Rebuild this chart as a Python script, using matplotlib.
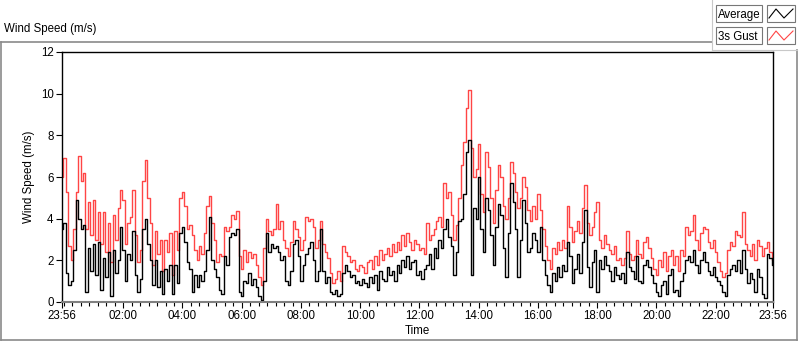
import matplotlib
matplotlib.use('Agg')
import matplotlib.pyplot as plt
import numpy as np
from matplotlib.lines import Line2D
from matplotlib.patches import Rectangle

# ---- data: 5-minute samples starting at 23:56 ----
SAMPLE_MIN = 5

gust = [
    # 23:56 - 02:00
    6.0, 6.9, 5.3, 2.7, 2.0, 3.5, 5.3, 7.0, 5.8, 6.2, 3.5, 4.8,
    3.2, 4.9, 3.0, 4.3, 2.8, 4.3, 2.4, 3.8, 1.9, 4.2, 3.0, 4.5,
    # 02:00 - 04:00
    5.4, 4.9, 2.8, 3.8, 4.1, 5.4, 3.2, 1.9, 2.5, 5.8, 6.8, 5.0,
    3.8, 1.8, 3.4, 2.3, 3.0, 1.5, 3.0, 2.4, 3.3, 1.3, 3.4, 2.5,
    # 04:00 - 06:00
    5.0, 5.3, 4.6, 3.5, 3.7, 3.2, 2.5, 2.0, 2.7, 2.3, 3.3, 4.6,
    5.1, 3.8, 3.0, 1.9, 2.3, 2.2, 3.6, 3.4, 3.6, 4.2, 4.0, 4.35,
    # 06:00 - 08:00
    2.2, 1.6, 2.5, 1.9, 2.4, 2.1, 2.3, 1.8, 1.2, 0.8, 2.6, 4.0,
    3.4, 3.2, 3.5, 4.7, 3.5, 3.9, 3.0, 2.6, 2.2, 2.9, 3.9, 3.5,
    # 08:00 - 10:00
    3.1, 2.5, 3.0, 4.1, 3.9, 4.0, 3.6, 2.6, 3.0, 3.9, 2.8, 2.4,
    2.1, 1.4, 0.9, 1.1, 1.5, 1.0, 2.7, 2.4, 2.2, 1.9, 2.0, 1.6,
    # 10:00 - 12:00
    1.5, 1.8, 1.7, 1.4, 1.9, 2.0, 1.6, 2.2, 1.8, 2.5, 2.0, 2.3,
    2.6, 2.2, 2.8, 2.4, 2.9, 2.5, 3.2, 2.7, 3.3, 2.9, 2.5, 3.0,
    # 12:00 - 14:00
    2.8, 2.5, 2.6, 2.3, 3.8, 3.0, 3.2, 3.5, 3.9, 4.1, 3.6, 5.7,
    5.0, 5.3, 4.2, 3.0, 3.7, 5.0, 6.6, 7.7, 9.3, 10.2, 7.4, 6.0,
    # 14:00 - 16:00
    6.4, 7.6, 5.2, 4.3, 7.2, 6.5, 5.0, 3.8, 5.4, 6.6, 6.0, 4.6,
    4.0, 5.0, 6.7, 6.2, 5.3, 4.5, 5.0, 6.0, 5.5, 4.4, 3.9, 4.6,
    # 16:00 - 18:00
    4.0, 5.2, 4.4, 3.5, 2.7, 2.0, 1.6, 2.6, 2.3, 2.9, 2.5, 3.0,
    2.6, 4.6, 3.6, 2.9, 3.4, 3.9, 3.3, 4.5, 5.6, 3.8, 3.2, 3.6,
    # 18:00 - 20:00
    4.3, 4.8, 3.0, 2.6, 3.2, 2.8, 2.5, 2.3, 2.7, 2.0, 2.1, 1.8,
    2.1, 3.4, 2.3, 2.0, 2.2, 3.0, 2.3, 2.1, 2.9, 3.1, 2.6, 2.1,
    # 20:00 - 22:00
    1.6, 1.3, 2.0, 1.7, 2.4, 1.5, 2.2, 2.5, 1.8, 2.2, 1.5, 2.5,
    2.2, 3.6, 3.2, 3.4, 4.2, 3.0, 2.5, 3.3, 3.6, 3.5, 2.9, 2.6,
    # 22:00 - 23:56
    3.0, 2.4, 1.9, 1.5, 1.2, 1.4, 2.5, 2.9, 2.7, 3.4, 3.2, 3.1,
    4.3, 2.8, 2.5, 2.2, 2.8, 2.0, 3.0, 2.7, 2.2, 2.6, 2.9, 2.4, 2.0,
]

average = [
    # 23:56 - 02:00
    3.5, 3.8, 1.4, 0.8, 1.0, 2.5, 4.9, 4.0, 3.5, 3.7, 0.5, 2.6,
    1.5, 2.8, 1.3, 2.9, 0.6, 2.1, 1.2, 2.4, 0.3, 2.5, 1.4, 2.0,
    # 02:00 - 04:00
    3.6, 2.5, 1.0, 2.3, 2.0, 3.4, 1.3, 0.5, 1.1, 3.5, 4.0, 2.8,
    2.0, 0.8, 2.0, 0.7, 1.5, 0.4, 1.6, 1.0, 1.8, 0.4, 1.8, 0.9,
    # 04:00 - 06:00
    3.3, 3.6, 2.9, 1.9, 1.6, 0.5, 1.3, 0.7, 1.3, 1.0, 1.5, 2.5,
    4.1, 2.0, 1.6, 1.2, 0.6, 0.4, 2.2, 1.8, 3.1, 3.3, 3.2, 3.5,
    # 06:00 - 08:00
    0.5, 0.3, 1.0, 0.9, 1.4, 0.8, 1.1, 0.7, 0.3, 0.1, 1.0, 3.3,
    2.4, 2.8, 2.6, 2.7, 2.4, 2.0, 2.2, 1.0, 0.8, 1.5, 2.8, 3.0,
    # 08:00 - 10:00
    2.2, 1.0, 1.8, 2.3, 2.6, 2.9, 2.0, 1.0, 1.5, 3.5, 1.5, 0.9,
    1.2, 0.5, 0.4, 0.6, 0.3, 0.4, 1.4, 1.8, 1.5, 1.2, 1.3, 0.9,
    # 10:00 - 12:00
    1.0, 0.8, 1.1, 0.9, 0.7, 1.2, 0.9, 1.3, 0.6, 1.5, 1.1, 1.0,
    1.7, 1.3, 1.5, 1.0, 1.8, 1.4, 2.0, 1.7, 2.2, 1.6, 1.9, 2.0,
    # 12:00 - 14:00
    1.3, 1.5, 1.1, 1.6, 1.8, 2.3, 1.6, 2.6, 2.1, 3.0, 2.6, 3.5,
    4.0, 3.1, 2.7, 1.3, 2.4, 3.9, 4.0, 5.2, 7.2, 7.8, 1.3, 4.5,
    # 14:00 - 16:00
    4.0, 6.0, 3.5, 2.4, 5.0, 4.4, 3.2, 1.8, 3.6, 4.7, 4.2, 2.6,
    1.2, 3.3, 5.7, 4.8, 3.5, 1.2, 3.0, 4.9, 3.8, 2.4, 2.6, 3.3,
    # 16:00 - 18:00
    3.0, 2.4, 3.6, 2.0, 1.3, 0.8, 0.5, 1.4, 1.0, 1.7, 1.2, 1.8,
    1.5, 2.9, 2.2, 0.9, 1.6, 2.3, 1.4, 2.9, 4.4, 1.7, 0.7, 1.9,
    # 18:00 - 20:00
    2.5, 0.5, 2.0, 1.6, 2.2, 1.8, 1.5, 1.0, 1.7, 1.3, 1.1, 1.4,
    0.9, 2.4, 1.7, 1.5, 1.1, 2.2, 1.0, 0.9, 1.8, 2.0, 1.7, 1.3,
    # 20:00 - 22:00
    0.9, 0.5, 0.3, 0.8, 1.0, 0.4, 1.3, 1.6, 0.5, 0.6, 0.3, 1.0,
    1.4, 2.0, 2.2, 1.9, 2.5, 1.8, 1.4, 2.0, 2.4, 1.9, 1.5, 1.3,
    # 22:00 - 23:56
    1.7, 1.2, 1.0, 0.8, 0.5, 0.3, 1.3, 1.6, 1.8, 1.5, 2.0, 1.4,
    2.5, 1.6, 0.9, 1.4, 1.1, 0.5, 1.6, 1.2, 0.4, 0.2, 2.3, 2.1, 1.8,
]

tick_labels = ['23:56', '02:00', '04:00', '06:00', '08:00', '10:00', '12:00',
               '14:00', '16:00', '18:00', '20:00', '22:00', '23:56']
tick_minutes = [0, 124, 244, 364, 484, 604, 724, 844, 964, 1084, 1204, 1324, 1440]
y_ticks = [0, 2, 4, 6, 8, 10, 12]
series_names = ['Average', '3s Gust']

# ---- style ----
plt.rcParams['font.family'] = ['Liberation Sans', 'DejaVu Sans']
RED = '#ff4545'
W, H = 800, 342

fig = plt.figure(figsize=(W / 100, H / 100), dpi=100)


def fx(px):
    return px / W


def fy(py):
    return 1 - py / H


# outer LabVIEW-style frame
fig.add_artist(Line2D([fx(1), fx(712)], [fy(42), fy(42)], color='#8a8a8a', lw=1.2))
fig.add_artist(Line2D([fx(1), fx(1)], [fy(42), fy(340)], color='#8a8a8a', lw=1.2))
fig.add_artist(Line2D([fx(1), fx(797)], [fy(340), fy(340)], color='#8a8a8a', lw=1.2))
fig.add_artist(Line2D([fx(797), fx(797)], [fy(50), fy(340)], color='#8a8a8a', lw=1.2))
fig.add_artist(Line2D([fx(712), fx(712)], [fy(0), fy(50)], color='#c8c8c8', lw=0.8))
fig.add_artist(Line2D([fx(712), fx(797)], [fy(50), fy(50)], color='#c8c8c8', lw=0.8))

fig.text(fx(4), fy(32), 'Wind Speed (m/s)', fontsize=8.3, ha='left', va='baseline')

# legend boxes (LabVIEW plot legend)
for k, (name, col) in enumerate(zip(series_names, ['black', RED])):
    top = 5 + k * 22
    fig.add_artist(Rectangle((fx(716), fy(top + 17)), fx(46), 17 / H,
                             facecolor='white', edgecolor='#777777', lw=0.8))
    fig.text(fx(718), fy(top + 13), name, fontsize=8.3, ha='left', va='baseline')
    fig.add_artist(Rectangle((fx(767), fy(top + 17)), fx(28), 17 / H,
                             facecolor='white', edgecolor='#777777', lw=0.8))
    fig.add_artist(Line2D([fx(769), fx(776), fx(784), fx(793)],
                          [fy(top + 13), fy(top + 4), fy(top + 13), fy(top + 4)],
                          color=col, lw=0.8))

ax = fig.add_axes([fx(62), fy(302), fx(773 - 62), (302 - 52) / H])

t = np.arange(len(gust)) * SAMPLE_MIN
ax.plot(t, gust, color=RED, lw=1.0, drawstyle='steps-mid')
ax.plot(t, average, color='black', lw=1.0, drawstyle='steps-mid')

ax.set_xlim(0, 1440)
ax.set_ylim(0, 12)
ax.set_yticks(y_ticks)
ax.set_xticks(tick_minutes)
ax.set_xticklabels(tick_labels)
ax.set_xticks([4 + k * 120 / 7 for k in range(84)], minor=True)
ax.tick_params(axis='both', labelsize=8.3, direction='out', length=4, width=0.8, pad=2)
ax.tick_params(axis='x', which='minor', length=3, width=0.8)
ax.set_xlabel('Time', fontsize=8.3, labelpad=2)
ax.set_ylabel('Wind Speed (m/s)', fontsize=8.3, labelpad=4)

for side in ['top', 'right', 'left']:
    ax.spines[side].set_linewidth(1.0)
ax.spines['bottom'].set_color('#808080')
ax.spines['bottom'].set_linewidth(1.5)

plt.savefig('out.png', dpi=100)
